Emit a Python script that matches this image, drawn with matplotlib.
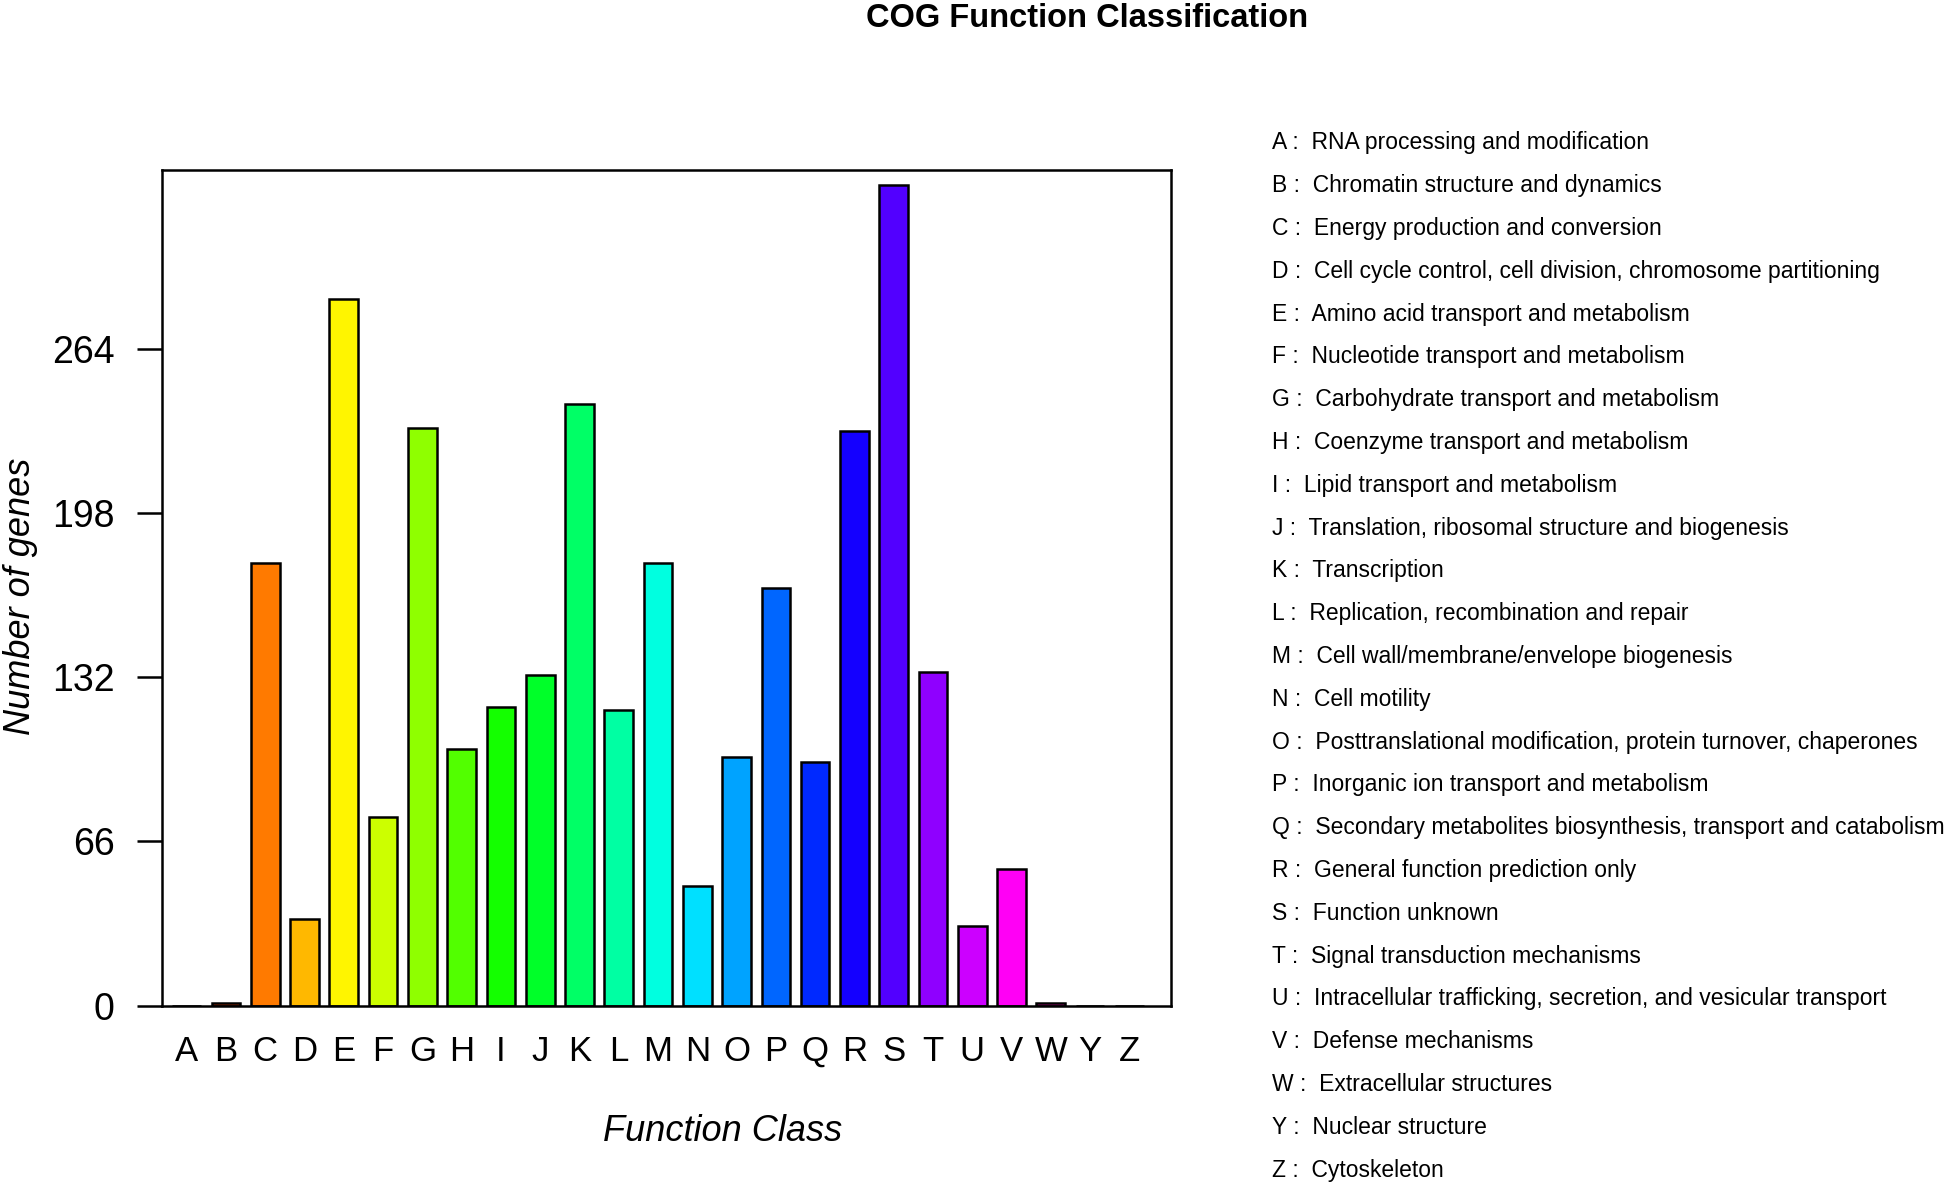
import numpy as np
import matplotlib
matplotlib.use("Agg")
import matplotlib.pyplot as plt
from matplotlib.colors import hsv_to_rgb

plt.rcParams['font.family'] = ['Liberation Sans', 'DejaVu Sans']

# COG classes (no X) and gene counts
classes = ["A", "B", "C", "D", "E", "F", "G", "H", "I", "J", "K", "L", "M",
           "N", "O", "P", "Q", "R", "S", "T", "U", "V", "W", "Y", "Z"]
counts = [0, 1, 178, 35, 284, 76, 232, 103, 120, 133, 242, 119, 178,
          48, 100, 168, 98, 231, 330, 134, 32, 55, 1, 0, 0]
descriptions = [
    "RNA processing and modification",
    "Chromatin structure and dynamics",
    "Energy production and conversion",
    "Cell cycle control, cell division, chromosome partitioning",
    "Amino acid transport and metabolism",
    "Nucleotide transport and metabolism",
    "Carbohydrate transport and metabolism",
    "Coenzyme transport and metabolism",
    "Lipid transport and metabolism",
    "Translation, ribosomal structure and biogenesis",
    "Transcription",
    "Replication, recombination and repair",
    "Cell wall/membrane/envelope biogenesis",
    "Cell motility",
    "Posttranslational modification, protein turnover, chaperones",
    "Inorganic ion transport and metabolism",
    "Secondary metabolites biosynthesis, transport and catabolism",
    "General function prediction only",
    "Function unknown",
    "Signal transduction mechanisms",
    "Intracellular trafficking, secretion, and vesicular transport",
    "Defense mechanisms",
    "Extracellular structures",
    "Nuclear structure",
    "Cytoskeleton",
]
y_ticks = [0, 66, 132, 198, 264]

# rainbow palette, one hue per class
n = len(classes)
colors = [hsv_to_rgb((i / n, 1.0, 1.0)) for i in range(n)]

fig = plt.figure(figsize=(19.51, 11.86), dpi=100)
ax = fig.add_axes([0.083, 0.152, 0.517, 0.705])

x = np.arange(n)
ax.bar(x, counts, width=0.73, color=colors, edgecolor="black", linewidth=1.8)

ax.set_xlim(-0.63, n - 1 + 1.05)
ax.set_ylim(0, 336)
ax.set_yticks(y_ticks)
ax.set_yticklabels([str(v) for v in y_ticks], fontsize=27)
ax.set_xticks(x)
ax.set_xticklabels(classes, fontsize=25)
ax.tick_params(axis="y", direction="out", length=18, width=1.8, pad=16)
ax.tick_params(axis="x", length=0, pad=21)
for sp in ax.spines.values():
    sp.set_linewidth(1.8)

fig.text(0.3706, 0.046, "Function Class", fontsize=26, style="italic",
         ha="center", va="center")
fig.text(0.0105, 0.497, "Number of genes", fontsize=26, style="italic",
         rotation=90, ha="center", va="center")
fig.text(0.557, 0.984, "COG Function Classification", fontsize=23.5,
         fontweight="bold", ha="center", va="center")

# class legend on the right
y0 = 1 - 143 / 1186
step = 42.8 / 1186
for i, (c, d) in enumerate(zip(classes, descriptions)):
    fig.text(0.652, y0 - i * step, f"{c} :  {d}", fontsize=16.5,
             ha="left", va="center")

fig.savefig("out.png", dpi=100)
